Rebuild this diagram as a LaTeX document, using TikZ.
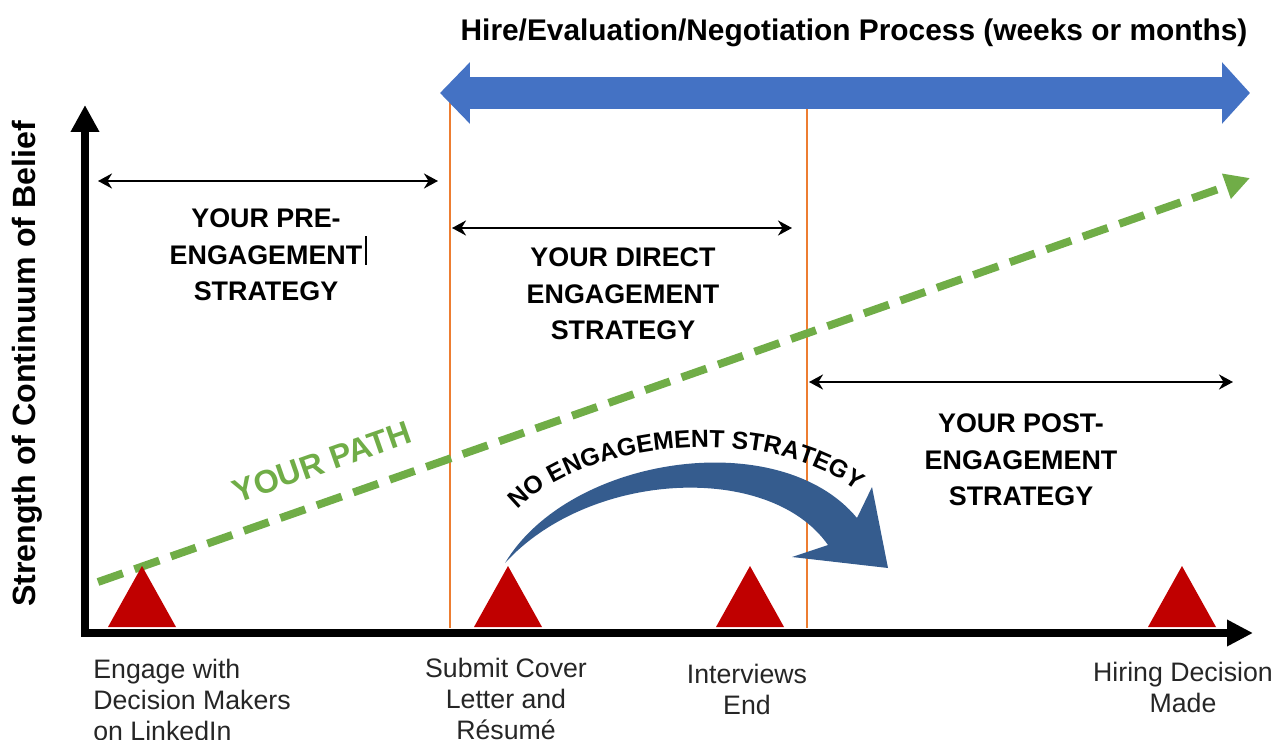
\documentclass[tikz,border=0pt]{standalone}
\usepackage{fontspec}
\setmainfont{Liberation Sans}
\usetikzlibrary{arrows.meta,decorations.text}
\definecolor{procblue}{HTML}{4472C4}
\definecolor{skipblue}{HTML}{355C8E}
\definecolor{pathgreen}{HTML}{70AD47}
\definecolor{phaseorange}{HTML}{ED7D31}
\definecolor{markred}{HTML}{C00000}

\begin{document}
\begin{tikzpicture}[x=0.02cm, y=-0.02cm,
    phase/.style={font=\bfseries\fontsize{15.3}{21}\selectfont, align=center, inner sep=0pt, anchor=north},
    event/.style={font=\fontsize{15.2}{17.6}\selectfont, text=black!85, align=center, inner sep=0pt, anchor=north},
    span/.style={{Stealth[length=2.8mm,width=3mm]}-{Stealth[length=2.8mm,width=3mm]}, line width=1.5pt},
    border/.style={line width=1.4pt, phaseorange}]
        \useasboundingbox (0,0) rectangle (1279,740);

        % phase borders
        \draw [border] (450,95) -- (450,628);
        \draw [border] (807,95) -- (807,628);

        % hiring process
        \coordinate (proc-l) at (440,93);
        \coordinate (proc-r) at (1250,93);
        \draw [procblue, line width=6.4mm, {Triangle[length=6mm,width=12mm]}-{Triangle[length=5.6mm,width=12mm]}] (proc-l) -- (proc-r);
        \node (title) [font=\bfseries\fontsize{17}{20}\selectfont, anchor=base] at (854,41) {Hire/Evaluation/Negotiation Process (weeks or months)};

        % axes
        \coordinate (y-top) at (85,105);
        \coordinate (origin) at (85,633);
        \coordinate (x-end) at (1253,633);
        \draw [line width=4.5pt, {Triangle[length=5.4mm,width=5.4mm]}-{Triangle[length=5.2mm,width=5mm]}] (y-top) -- (origin) -- (x-end);
        \node (ylab) [font=\bfseries\fontsize{18.3}{20}\selectfont, rotate=90] at (27,364) {Strength of Continuum of Belief};

        % phase spans
        \coordinate (pre-l) at (98,181);   \coordinate (pre-r) at (438,181);
        \coordinate (dir-l) at (452,228);  \coordinate (dir-r) at (792,228);
        \coordinate (post-l) at (809,382); \coordinate (post-r) at (1233,382);
        \draw [span] (pre-l) -- (pre-r);
        \draw [span] (dir-l) -- (dir-r);
        \draw [span] (post-l) -- (post-r);
        \node (pre) [phase] at (266,208) {YOUR PRE-\\ENGAGEMENT\\STRATEGY};
        \draw [line width=0.6pt] (366,236) -- (366,265);
        \node (direct) [phase] at (623,247) {YOUR DIRECT\\ENGAGEMENT\\STRATEGY};
        \node (post) [phase] at (1021,413) {YOUR POST-\\ENGAGEMENT\\STRATEGY};

        % your path
        \coordinate (path-s) at (98,582);
        \coordinate (path-e) at (1250,178);
        \draw [pathgreen, line width=4.5pt, dash pattern=on 15pt off 7pt, -{Triangle[length=5mm,width=5mm]}] (path-s) -- (path-e);
        \node (path-lab) [pathgreen, font=\bfseries\fontsize{18.5}{20}\selectfont, rotate=19.3] at (322,462) {YOUR PATH};

        % skipping straight to the decision
        \fill [skipblue] (505,563) .. controls (570,455) and (780,425) .. (857,518)
            -- (872,487) -- (888,568) -- (792,557) -- (828,545)
            .. controls (770,462) and (590,470) .. (505,563) -- cycle;
        \path [decorate, decoration={text along path, text align=center,
            text={|\bfseries\fontsize{14.1}{16}\selectfont|NO ENGAGEMENT STRATEGY}}]
            (515,513) .. controls (580,440) and (770,420) .. (860,493);

        % milestones
        \foreach \x in {142,508,750,1182}
            \fill [markred] (\x-34,627) -- (\x,566) -- (\x+34,627) -- cycle;
        \node (ev-linkedin) [event, align=left, anchor=north west] at (93,659) {Engage with\\Decision Makers\\on LinkedIn};
        \node (ev-submit) [event] at (506,658) {Submit Cover\\Letter and\\Résumé};
        \node (ev-interview) [event] at (747,664) {Interviews\\End};
        \node (ev-decision) [event] at (1183,662) {Hiring Decision\\Made};
\end{tikzpicture}
\end{document}
